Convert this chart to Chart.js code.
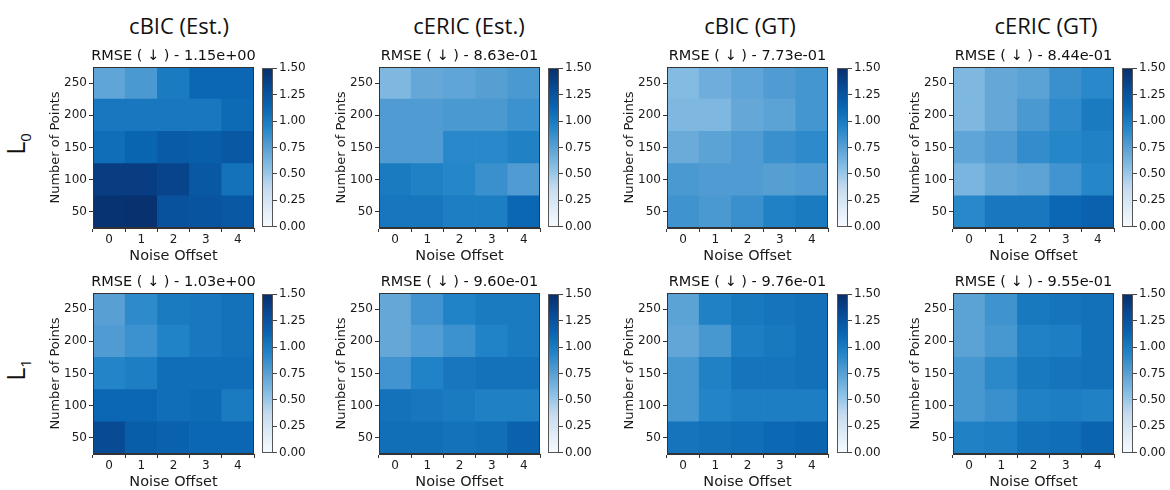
<!DOCTYPE html>
<html>
<head>
<meta charset="utf-8">
<script src="https://cdn.jsdelivr.net/npm/chart.js@4.4.0/dist/chart.umd.min.js"></script>
<style>
  body { margin: 0; background: #fff; width: 1170px; height: 490px; position: relative; overflow: hidden; }
  canvas { position: absolute; }
  .col-title { position: absolute; font-family: "Open Sans", sans-serif; font-size: 22px; color: #111; transform: translate(-50%, -50%); white-space: nowrap; }
  .row-title { position: absolute; font-family: "Open Sans", sans-serif; font-size: 25px; color: #111; transform: translate(-50%, -50%) rotate(-90deg); white-space: nowrap; }
  .row-title sub { font-size: 15px; }
</style>
</head>
<body>
<script>
// axes
const noiseOffsets = [0, 1, 2, 3, 4];
const numPoints = [50, 100, 150, 200, 250];
const colorbarTicks = [0, 0.25, 0.5, 0.75, 1.0, 1.25, 1.5];

const methods = ['cBIC (Est.)', 'cERIC (Est.)', 'cBIC (GT)', 'cERIC (GT)'];
const levels = ['0', '1'];

// mean RMSE shown in each panel title
const rmseL0 = [1.15, 0.863, 0.773, 0.844];
const rmseL1 = [1.03, 0.960, 0.976, 0.955];

// RMSE grids, one row per number of points (50 .. 250), one column per noise offset
const cbicEstL0 = [
  [1.47, 1.48, 1.27, 1.25, 1.22],
  [1.40, 1.40, 1.36, 1.22, 1.05],
  [1.08, 1.13, 1.20, 1.18, 1.22],
  [1.02, 1.02, 1.02, 1.02, 1.10],
  [0.72, 0.80, 1.00, 1.12, 1.12]
];
const cericEstL0 = [
  [1.03, 1.03, 0.98, 0.98, 1.12],
  [1.00, 0.96, 0.93, 0.86, 0.78],
  [0.78, 0.78, 0.92, 0.92, 0.96],
  [0.78, 0.78, 0.80, 0.80, 0.85],
  [0.60, 0.70, 0.72, 0.76, 0.80]
];
const cbicGtL0 = [
  [0.84, 0.80, 0.86, 0.96, 1.00],
  [0.80, 0.78, 0.78, 0.76, 0.78],
  [0.68, 0.74, 0.78, 0.86, 0.90],
  [0.60, 0.60, 0.70, 0.74, 0.82],
  [0.58, 0.66, 0.72, 0.78, 0.82]
];
const cericGtL0 = [
  [0.92, 1.02, 1.02, 1.12, 1.15],
  [0.62, 0.70, 0.73, 0.83, 0.93],
  [0.72, 0.78, 0.88, 0.93, 0.96],
  [0.60, 0.70, 0.80, 0.90, 1.00],
  [0.60, 0.70, 0.74, 0.86, 0.92]
];
const cbicEstL1 = [
  [1.32, 1.18, 1.15, 1.12, 1.12],
  [1.12, 1.12, 1.08, 1.10, 1.00],
  [0.94, 0.98, 1.08, 1.08, 1.08],
  [0.78, 0.85, 0.95, 1.02, 1.05],
  [0.75, 0.90, 1.00, 1.02, 1.05]
];
const cericEstL1 = [
  [1.07, 1.07, 1.05, 1.07, 1.15],
  [1.05, 1.03, 1.00, 0.97, 0.97],
  [0.83, 0.95, 1.03, 1.05, 1.05],
  [0.70, 0.77, 0.85, 0.95, 1.00],
  [0.70, 0.83, 0.95, 1.00, 1.00]
];
const cbicGtL1 = [
  [1.04, 1.06, 1.08, 1.11, 1.14],
  [0.81, 0.94, 0.98, 0.98, 0.98],
  [0.81, 0.96, 1.04, 1.04, 1.06],
  [0.71, 0.81, 0.98, 1.01, 1.06],
  [0.74, 0.96, 1.01, 1.04, 1.06]
];
const cericGtL1 = [
  [0.96, 0.98, 1.06, 1.08, 1.14],
  [0.81, 0.86, 0.96, 0.98, 0.96],
  [0.81, 0.91, 1.01, 1.04, 1.06],
  [0.74, 0.81, 0.96, 0.98, 1.06],
  [0.74, 0.84, 1.01, 1.04, 1.06]
];

const gridsL0 = [cbicEstL0, cericEstL0, cbicGtL0, cericGtL0];
const gridsL1 = [cbicEstL1, cericEstL1, cbicGtL1, cericGtL1];

// Blues-style colour map over [0, 1.5]
const vmin = colorbarTicks[0], vmax = colorbarTicks[colorbarTicks.length - 1];
const stops = [
  [247, 251, 255], [222, 235, 247], [195, 218, 239], [135, 190, 228],
  [88, 160, 212], [35, 133, 200], [10, 102, 178], [8, 75, 150], [8, 46, 107]
];
function cmap(v) {
  let t = Math.min(1, Math.max(0, (v - vmin) / (vmax - vmin))) * (stops.length - 1);
  const i = Math.min(stops.length - 2, Math.floor(t));
  const f = t - i;
  const c = stops[i].map((a, k) => Math.round(a + (stops[i + 1][k] - a) * f));
  return 'rgb(' + c.join(',') + ')';
}

function sci(v) {
  const e = Math.floor(Math.log10(v));
  const m = v / Math.pow(10, e);
  return m.toFixed(2) + 'e' + (e < 0 ? '-' : '+') + String(Math.abs(e)).padStart(2, '0');
}

Chart.defaults.font.family = '"DejaVu Sans", sans-serif';
Chart.defaults.color = '#1a1a1a';
Chart.defaults.animation = false;

const frame = {
  id: 'frame',
  afterDatasetsDraw(chart, args, opts) {
    const { ctx, chartArea: a } = chart;
    ctx.save();
    ctx.strokeStyle = opts.color || '#333';
    ctx.lineWidth = 1;
    ctx.strokeRect(Math.round(a.left) + 0.5, Math.round(a.top) + 0.5, Math.round(a.width) - 1, Math.round(a.height) - 1);
    ctx.restore();
  }
};

// layout
const heatX = [93, 379, 667, 953];
const barX = [262, 548, 837, 1122];
const rowY = [67, 293];
const side = 161, barW = 11;
const yAxisW = 49, xAxisH = 40, titleH = 26;

function addCanvas(left, top, w, h) {
  const c = document.createElement('canvas');
  c.width = w; c.height = h;
  c.style.left = left + 'px'; c.style.top = top + 'px';
  c.style.width = w + 'px'; c.style.height = h + 'px';
  document.body.appendChild(c);
  return c;
}

function addText(cls, html, x, y) {
  const d = document.createElement('div');
  d.className = cls;
  d.innerHTML = html;
  d.style.left = x + 'px'; d.style.top = y + 'px';
  document.body.appendChild(d);
}

function heatmap(canvas, grid, rmse) {
  const step = numPoints[1] - numPoints[0];
  return new Chart(canvas, {
    type: 'bar',
    data: {
      labels: noiseOffsets,
      datasets: numPoints.map((n, r) => ({
        data: grid[r].map(() => [n - step / 2, n + step / 2]),
        backgroundColor: grid[r].map(cmap),
        borderWidth: 0,
        grouped: false,
        barPercentage: 1,
        categoryPercentage: 1
      }))
    },
    options: {
      responsive: false,
      layout: { padding: 0 },
      plugins: {
        legend: { display: false },
        tooltip: { enabled: false },
        title: {
          display: true,
          text: 'RMSE ( \u2193 ) - ' + sci(rmse),
          color: '#111',
          font: { size: 14.5, weight: 'normal', lineHeight: '16px' },
          padding: { top: 7, bottom: 3 }
        },
        frame: { color: '#333' }
      },
      scales: {
        x: {
          afterFit: s => { s.height = xAxisH; },
          grid: { drawOnChartArea: false, tickLength: 4, color: '#333' },
          border: { color: '#333' },
          ticks: { padding: 1, font: { size: 12 } },
          title: { display: true, text: 'Noise Offset', font: { size: 14.5 }, padding: { top: 2, bottom: 3 } }
        },
        y: {
          min: numPoints[0] - step / 2,
          max: numPoints[numPoints.length - 1] + step / 2,
          afterBuildTicks: s => { s.ticks = numPoints.map(v => ({ value: v })); },
          afterFit: s => { s.width = yAxisW; },
          grid: { drawOnChartArea: false, tickLength: 4, color: '#333' },
          border: { color: '#333' },
          ticks: { padding: 2, font: { size: 12 } },
          title: { display: true, text: 'Number of Points', font: { size: 13 }, padding: { top: 4, bottom: 2 } }
        },
        // empty right-hand axis, keeps the plot centred under its title
        yPad: {
          position: 'right',
          afterFit: s => { s.width = yAxisW; },
          ticks: { display: false },
          grid: { display: false },
          border: { display: false }
        }
      }
    },
    plugins: [frame]
  });
}

function colorbar(canvas) {
  return new Chart(canvas, {
    type: 'bar',
    data: {
      labels: [''],
      datasets: [{
        data: [[vmin, vmax]],
        backgroundColor: c => {
          const ch = c.chart, y = ch.scales.y;
          if (!ch.chartArea || !y) return cmap((vmin + vmax) / 2);
          const g = ch.ctx.createLinearGradient(0, y.getPixelForValue(vmin), 0, y.getPixelForValue(vmax));
          for (let i = 0; i <= 30; i++) {
            g.addColorStop(i / 30, cmap(vmin + (vmax - vmin) * i / 30));
          }
          return g;
        },
        borderWidth: 0,
        barPercentage: 1,
        categoryPercentage: 1
      }]
    },
    options: {
      responsive: false,
      layout: { padding: { left: 0, right: 0, top: 8, bottom: 8 } },
      plugins: {
        legend: { display: false },
        tooltip: { enabled: false },
        frame: { color: '#555' }
      },
      scales: {
        x: { display: false },
        y: {
          position: 'right',
          min: vmin,
          max: vmax,
          afterBuildTicks: s => { s.ticks = colorbarTicks.map(v => ({ value: v })); },
          afterFit: s => { s.width = 40; },
          grid: { drawOnChartArea: false, tickLength: 4, color: '#444' },
          border: { display: false },
          ticks: { padding: 2, font: { size: 12 }, callback: v => Number(v).toFixed(2) }
        }
      }
    },
    plugins: [frame]
  });
}

const colTitleX = [179, 469, 750, 1046];
methods.forEach((m, i) => addText('col-title', m, colTitleX[i], 25));
levels.forEach((l, r) => addText('row-title', 'L<sub>' + l + '</sub>', 16, r === 0 ? 144 : 370));

[gridsL0, gridsL1].forEach((grids, r) => {
  const rmse = r === 0 ? rmseL0 : rmseL1;
  grids.forEach((g, i) => {
    heatmap(addCanvas(heatX[i] - yAxisW, rowY[r] - titleH, yAxisW + side + yAxisW, titleH + side + xAxisH), g, rmse[i]);
    colorbar(addCanvas(barX[i], rowY[r] - 8, barW + 40, side + 16));
  });
});
</script>
</body>
</html>
